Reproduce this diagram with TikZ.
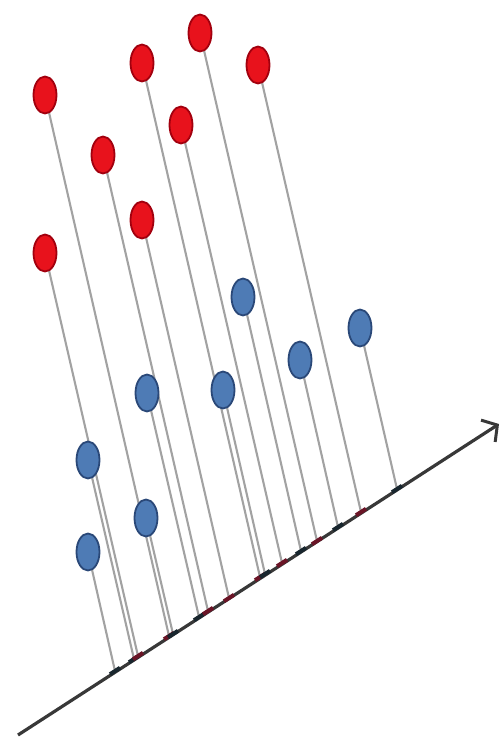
\documentclass[tikz,border=0pt]{standalone}
\usetikzlibrary{shapes.geometric,arrows.meta,calc}
\definecolor{redfill}{HTML}{E8121C}
\definecolor{redline}{HTML}{A2000E}
\definecolor{bluefill}{HTML}{4E7BB5}
\definecolor{blueline}{HTML}{2A4878}
\definecolor{projgray}{HTML}{A2A2A2}
\definecolor{axisgray}{HTML}{383838}
\definecolor{redmark}{HTML}{6A1426}
\definecolor{bluemark}{HTML}{18262E}
\tikzset{
  reddot/.style={ellipse, draw=redline, fill=redfill, line width=1.8pt, minimum width=23pt, minimum height=37pt, inner sep=0pt},
  bluedot/.style={ellipse, draw=blueline, fill=bluefill, line width=1.8pt, minimum width=23pt, minimum height=37pt, inner sep=0pt},
  projline/.style={draw=projgray, line width=2.1pt},
  axisline/.style={draw=axisgray, line width=3.2pt, -{Straight Barb[length=11pt,width=26pt,line width=3pt]}},
  rmark/.style={draw=redmark, line width=4pt},
  bmark/.style={draw=bluemark, line width=4pt},
}
\begin{document}
\begin{tikzpicture}[x=1pt,y=-1pt]
\useasboundingbox (0,0) rectangle (501,740);
% axis end points
\coordinate (A) at (18,735);
\coordinate (B) at (499,424);
% feet of the projections
\coordinate (fr1) at (169,636);
\coordinate (fr2) at (260,577);
\coordinate (fr3) at (317,541);
\coordinate (fr4) at (361,512);
\coordinate (fr5) at (282,563);
\coordinate (fr6) at (208,611);
\coordinate (fr7) at (229,598);
\coordinate (fr8) at (138,656);
\coordinate (fb1) at (301,551);
\coordinate (fb2) at (397,489);
\coordinate (fb3) at (338,527);
\coordinate (fb4) at (199,617);
\coordinate (fb5) at (265,574);
\coordinate (fb6) at (134,659);
\coordinate (fb7) at (173,634);
\coordinate (fb8) at (115,671);
% points (positions only, drawn later on top)
\path
  (45,95)  coordinate (cr1)
  (142,63) coordinate (cr2)
  (200,33) coordinate (cr3)
  (258,65) coordinate (cr4)
  (181,125) coordinate (cr5)
  (103,155) coordinate (cr6)
  (142,220) coordinate (cr7)
  (45,253) coordinate (cr8)
  (243,297) coordinate (cb1)
  (360,328) coordinate (cb2)
  (300,360) coordinate (cb3)
  (147,393) coordinate (cb4)
  (223,390) coordinate (cb5)
  (88,460) coordinate (cb6)
  (146,518) coordinate (cb7)
  (88,552) coordinate (cb8);
% projection lines
\foreach \i in {1,...,8} {
  \draw[projline] (cr\i) -- (fr\i);
  \draw[projline] (cb\i) -- (fb\i);
}
% axis
\draw[axisline] (A) -- (B);
% projected marks on the axis
\foreach \i in {1,...,8} {
  \draw[rmark] ($(fr\i)+(-5,3.2)$) -- ($(fr\i)+(5,-3.2)$);
  \draw[bmark] ($(fb\i)+(-5,3.2)$) -- ($(fb\i)+(5,-3.2)$);
}
% dots
\foreach \i in {1,...,8} {
  \node[reddot] (r\i) at (cr\i) {};
  \node[bluedot] (b\i) at (cb\i) {};
}
\end{tikzpicture}
\end{document}
